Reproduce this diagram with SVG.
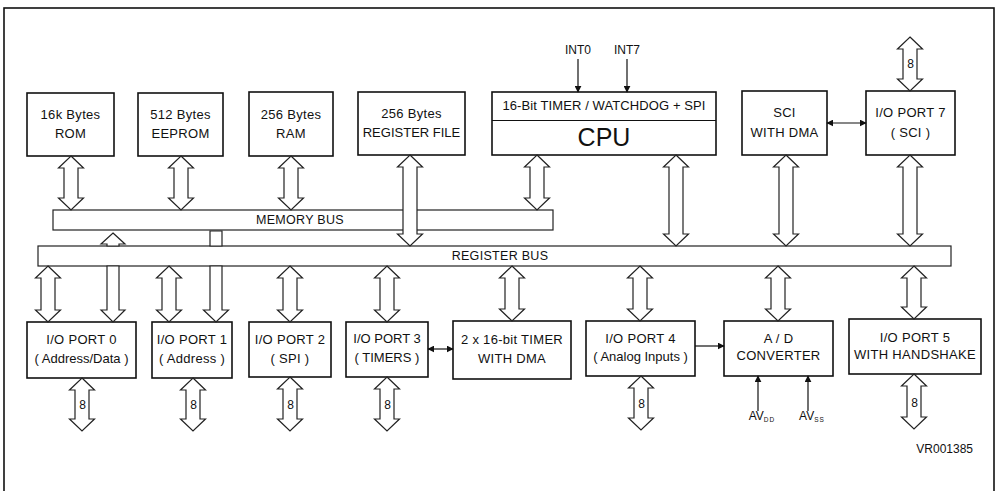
<svg xmlns="http://www.w3.org/2000/svg" width="1001" height="491" viewBox="0 0 1001 491">
<style>
.box{fill:#fff;stroke:#111;stroke-width:1.6}
.bus{fill:#fff;stroke:#222;stroke-width:1.2}
.frame{fill:none;stroke:#111;stroke-width:1.6}
.arr{fill:#fff;stroke:#222;stroke-width:1.2;stroke-linejoin:miter}
.ln{fill:none;stroke:#111;stroke-width:1.2}
text{font-family:"Liberation Sans",Arial,sans-serif;fill:#111;text-anchor:middle}
.t{font-size:13px;letter-spacing:0.3px}
.b{font-size:12.5px;letter-spacing:0.3px}
.s{font-size:12px}
.cpu{font-size:25px}
.sub{font-size:6.5px;letter-spacing:1px}
</style>
<defs>
<marker id="ah" viewBox="0 0 10 10" refX="9" refY="5" markerWidth="7" markerHeight="7" orient="auto-start-reverse" markerUnits="userSpaceOnUse">
<path d="M0,0 L10,5 L0,10 Z" fill="#111"/>
</marker>
</defs>
<rect class="frame" x="4" y="8" width="990" height="500"/>

<g id="rom"><rect class="box" x="27" y="93" width="87" height="63"/><text class="t" x="70.5" y="119">16k Bytes</text><text class="t" x="70.5" y="138">ROM</text></g>
<g id="eeprom"><rect class="box" x="138" y="93" width="85" height="63"/><text class="t" x="180.5" y="119">512 Bytes</text><text class="t" x="180.5" y="138">EEPROM</text></g>
<g id="ram"><rect class="box" x="249" y="92" width="84" height="64"/><text class="t" x="291" y="119">256 Bytes</text><text class="t" x="291" y="138">RAM</text></g>
<g id="regfile"><rect class="box" x="358" y="92" width="107" height="63"/><text class="t" x="411.5" y="118">256 Bytes</text><text class="t" x="411.5" y="137" style="letter-spacing:0">REGISTER FILE</text></g>
<g id="cpu"><rect class="box" x="492" y="92" width="224" height="63"/><line class="ln" x1="492" y1="120.5" x2="716" y2="120.5"/><text class="t" x="604" y="110" style="letter-spacing:0.1px">16-Bit TIMER / WATCHDOG + SPI</text><text class="cpu" x="604" y="146">CPU</text></g>
<g id="sci"><rect class="box" x="742" y="91" width="85" height="64"/><text class="t" x="784.5" y="117">SCI</text><text class="t" x="784.5" y="137">WITH DMA</text></g>
<g id="port7"><rect class="box" x="866" y="91" width="89" height="64"/><text class="t" x="910.5" y="117">I/O PORT 7</text><text class="t" x="910.5" y="137">( SCI )</text></g>

<g id="memory-bus"><rect class="bus" x="53" y="210" width="500" height="20"/><text class="b" x="300" y="224">MEMORY BUS</text></g>
<g id="register-bus"><rect class="bus" x="38" y="246" width="913" height="20"/><text class="b" x="500" y="260">REGISTER BUS</text></g>

<g id="port0"><rect class="box" x="27" y="322" width="109" height="56"/><text class="t" x="81.5" y="344">I/O PORT 0</text><text class="t" x="81.5" y="363" style="letter-spacing:0">( Address/Data )</text></g>
<g id="port1"><rect class="box" x="152" y="322" width="80" height="56"/><text class="t" x="192" y="344">I/O PORT 1</text><text class="t" x="192" y="363">( Address )</text></g>
<g id="port2"><rect class="box" x="249" y="322" width="82" height="55"/><text class="t" x="290" y="344">I/O PORT 2</text><text class="t" x="290" y="363">( SPI )</text></g>
<g id="port3"><rect class="box" x="346" y="322" width="82" height="55"/><text class="t" x="387" y="343" style="letter-spacing:0">I/O PORT 3</text><text class="t" x="387" y="362" style="letter-spacing:0">( TIMERS )</text></g>
<g id="timer"><rect class="box" x="453" y="321" width="118" height="58"/><text class="t" x="512" y="344">2 x 16-bit TIMER</text><text class="t" x="512" y="363">WITH DMA</text></g>
<g id="port4"><rect class="box" x="586" y="321" width="109" height="55"/><text class="t" x="640.5" y="343">I/O PORT 4</text><text class="t" x="640.5" y="361" style="letter-spacing:0">( Analog Inputs )</text></g>
<g id="adc"><rect class="box" x="724" y="321" width="109" height="55"/><text class="t" x="778.5" y="343">A / D</text><text class="t" x="778.5" y="360">CONVERTER</text></g>
<g id="port5"><rect class="box" x="849" y="319" width="132" height="55"/><text class="t" x="915" y="342">I/O PORT 5</text><text class="t" x="915" y="359">WITH HANDSHAKE</text></g>

<g id="connectors">
<path class="arr" d="M71,156 L83.5,168 H78 V198 H83.5 L71,210 L58.5,198 H64 V168 H58.5 Z"/>
<path class="arr" d="M181,156 L193.5,168 H188 V198 H193.5 L181,210 L168.5,198 H174 V168 H168.5 Z"/>
<path class="arr" d="M291,156 L303.5,168 H298 V198 H303.5 L291,210 L278.5,198 H284 V168 H278.5 Z"/>
<path class="arr" d="M410,155 L422.5,167 H417 V234 H422.5 L410,246 L397.5,234 H403 V167 H397.5 Z"/>
<path class="arr" d="M537,155 L549.5,167 H544 V198 H549.5 L537,210 L524.5,198 H530 V167 H524.5 Z"/>
<path class="arr" d="M676,155 L688.5,167 H683 V234 H688.5 L676,246 L663.5,234 H669 V167 H663.5 Z"/>
<path class="arr" d="M786,155 L798.5,167 H793 V234 H798.5 L786,246 L773.5,234 H779 V167 H773.5 Z"/>
<path class="arr" d="M910,155 L922.5,167 H917 V234 H922.5 L910,246 L897.5,234 H903 V167 H897.5 Z"/>
<path class="arr" d="M910,37 L922.5,49 H917 V79 H922.5 L910,91 L897.5,79 H903 V49 H897.5 Z"/>
<text class="s" x="910.5" y="68">8</text>

<path class="arr" d="M113,233 L125,244 H119 V246 H107 V244 H101 Z"/>
<path class="arr" d="M107,266 H119 V310 H125 L113,322 L101,310 H107 Z"/>
<path class="arr" d="M210,231 H222 V246 H210 Z"/>
<path class="arr" d="M210,266 H222 V310 H228.5 L216,322 L203.5,310 H210 Z"/>

<path class="arr" d="M48,266 L60.5,278 H55 V310 H60.5 L48,322 L35.5,310 H41 V278 H35.5 Z"/>
<path class="arr" d="M169,266 L181.5,278 H176 V310 H181.5 L169,322 L156.5,310 H162 V278 H156.5 Z"/>
<path class="arr" d="M290,266 L302.5,278 H297 V310 H302.5 L290,322 L277.5,310 H283 V278 H277.5 Z"/>
<path class="arr" d="M387,266 L399.5,278 H394 V310 H399.5 L387,322 L374.5,310 H380 V278 H374.5 Z"/>
<path class="arr" d="M512,266 L524.5,278 H519 V309 H524.5 L512,321 L499.5,309 H505 V278 H499.5 Z"/>
<path class="arr" d="M640,266 L652.5,278 H647 V309 H652.5 L640,321 L627.5,309 H633 V278 H627.5 Z"/>
<path class="arr" d="M778,266 L790.5,278 H785 V309 H790.5 L778,321 L765.5,309 H771 V278 H765.5 Z"/>
<path class="arr" d="M914,266 L926.5,278 H921 V307 H926.5 L914,319 L901.5,307 H907 V278 H901.5 Z"/>

<path class="arr" d="M82,378 L94.5,390 H89 V419 H94.5 L82,431 L69.5,419 H75 V390 H69.5 Z"/>
<path class="arr" d="M193,378 L205.5,390 H200 V419 H205.5 L193,431 L180.5,419 H186 V390 H180.5 Z"/>
<path class="arr" d="M290,377 L302.5,389 H297 V419 H302.5 L290,431 L277.5,419 H283 V389 H277.5 Z"/>
<path class="arr" d="M387,377 L399.5,389 H394 V419 H399.5 L387,431 L374.5,419 H380 V389 H374.5 Z"/>
<path class="arr" d="M641,376 L653.5,388 H648 V418 H653.5 L641,430 L628.5,418 H634 V388 H628.5 Z"/>
<path class="arr" d="M914,374 L926.5,386 H921 V417 H926.5 L914,429 L901.5,417 H907 V386 H901.5 Z"/>
<text class="s" x="82.5" y="409">8</text>
<text class="s" x="193.5" y="409">8</text>
<text class="s" x="290.5" y="409">8</text>
<text class="s" x="387.5" y="409">8</text>
<text class="s" x="641.5" y="408">8</text>
<text class="s" x="914.5" y="407">8</text>

<line class="ln" x1="827" y1="123" x2="866" y2="123" marker-start="url(#ah)" marker-end="url(#ah)"/>
<line class="ln" x1="428" y1="349" x2="453" y2="349" marker-start="url(#ah)" marker-end="url(#ah)"/>
<line class="ln" x1="695" y1="346" x2="724" y2="346" marker-end="url(#ah)"/>
<line class="ln" x1="578" y1="59" x2="578" y2="92" marker-end="url(#ah)"/>
<line class="ln" x1="627" y1="59" x2="627" y2="92" marker-end="url(#ah)"/>
<line class="ln" x1="758" y1="411" x2="758" y2="376" marker-end="url(#ah)"/>
<line class="ln" x1="808" y1="411" x2="808" y2="376" marker-end="url(#ah)"/>
</g>

<text class="s" x="578" y="54">INT0</text>
<text class="s" x="627" y="54">INT7</text>
<text class="s" x="762" y="420">AV<tspan class="sub" dy="2">DD</tspan></text>
<text class="s" x="812" y="420">AV<tspan class="sub" dy="2">SS</tspan></text>
<text class="s" x="973" y="453" style="text-anchor:end">VR001385</text>
</svg>
